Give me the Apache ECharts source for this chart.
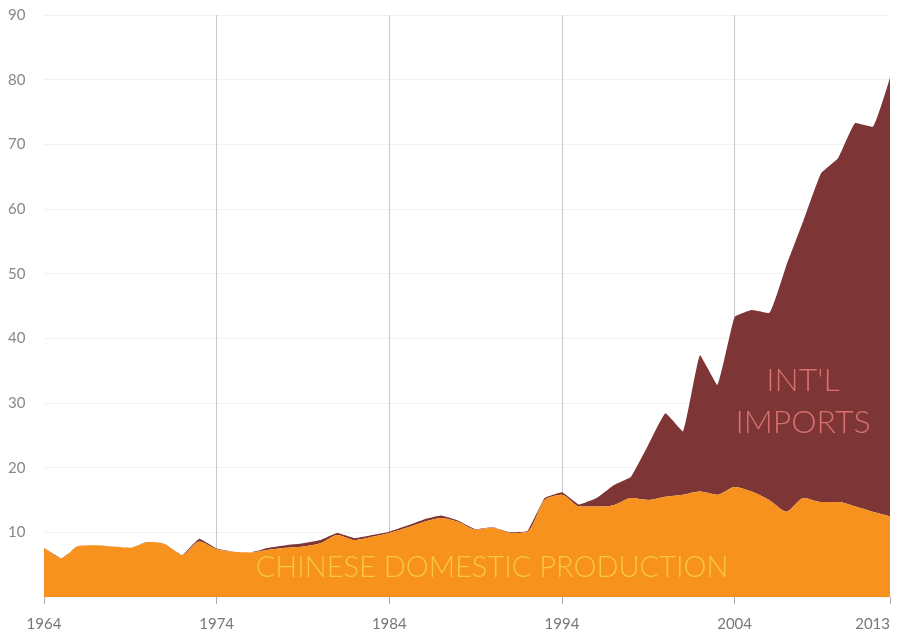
<!DOCTYPE html>
<html>
<head>
<meta charset="utf-8">
<script src="https://cdn.jsdelivr.net/npm/echarts@6/dist/echarts.min.js"></script>
<style>
  html, body { margin: 0; padding: 0; background: #fff; }
  #chart { width: 902px; height: 639px; }
</style>
</head>
<body>
<div id="chart"></div>
<script>
// years 1964..2013
var years = [];
for (var y = 1964; y <= 2013; y++) years.push(String(y));

// million tonnes
var domestic = [
  7.6, 6.0, 7.9, 8.0, 7.8, 7.6, 8.5, 8.2, 6.5, 8.6,
  7.4, 7.0, 6.9, 7.3, 7.6, 7.8, 8.3, 9.6, 8.8, 9.3,
  9.9, 10.7, 11.6, 12.2, 11.6, 10.4, 10.7, 9.9, 10.1, 15.0,
  15.8, 14.0, 14.0, 14.2, 15.3, 15.0, 15.5, 15.8, 16.3, 15.8,
  17.0, 16.3, 15.0, 13.2, 15.3, 14.7, 14.7, 14.0, 13.2, 12.5
];
var imports = [
  0, 0, 0, 0, 0, 0, 0, 0, 0, 0.4,
  0.1, 0, 0, 0.3, 0.4, 0.5, 0.5, 0.3, 0.3, 0.3,
  0.2, 0.3, 0.4, 0.4, 0.2, 0.1, 0.1, 0.1, 0.1, 0.3,
  0.4, 0.3, 1.3, 3.1, 3.3, 8.5, 12.9, 9.8, 21.1, 17.0,
  26.3, 28.1, 28.9, 38.1, 43.0, 50.8, 53.2, 59.3, 59.5, 67.8
];
var labelYears = ['1964', '1974', '1984', '1994', '2004', '2013'];
var gridYears = ['1974', '1984', '1994', '2004'];

var chart = echarts.init(document.getElementById('chart'));
chart.setOption({
  animation: false,
  grid: { left: 44, right: 12, top: 15, bottom: 42, outerBoundsMode: 'none' },
  xAxis: {
    type: 'category',
    data: years,
    boundaryGap: false,
    axisLine: { show: false },
    axisTick: {
      show: true, length: 7, inside: false,
      interval: function (i, v) { return labelYears.indexOf(v) >= 0; },
      lineStyle: { color: '#aaa', width: 1 }
    },
    axisLabel: {
      interval: function (i, v) { return labelYears.indexOf(v) >= 0; },
      color: '#777', fontSize: 15, fontFamily: 'Lato', margin: 20,
      hideOverlap: false,
      alignMaxLabel: 'right'
    },
    splitLine: {
      show: true,
      interval: function (i, v) { return gridYears.indexOf(v) >= 0; },
      lineStyle: { color: '#c8c8c8', width: 1 }
    }
  },
  yAxis: {
    type: 'value',
    min: 0, max: 90, interval: 10,
    axisLine: { show: false },
    axisTick: { show: false },
    axisLabel: {
      color: '#888', fontSize: 15, fontFamily: 'Lato',
      align: 'left', margin: 36,
      formatter: function (v) { return v === 0 ? '' : v; }
    },
    splitLine: { lineStyle: { color: '#f2f2f2', width: 1 } }
  },
  series: [
    {
      name: 'Chinese domestic production',
      type: 'line', stack: 'total', data: domestic,
      smooth: 0.25, symbol: 'none',
      lineStyle: { width: 0 },
      areaStyle: { color: '#F7921E', opacity: 1 },
      z: 3
    },
    {
      name: "Int'l imports",
      type: 'line', stack: 'total', data: imports,
      smooth: 0.1, symbol: 'none',
      lineStyle: { width: 0 },
      areaStyle: { color: '#7D3535', opacity: 1 },
      z: 2
    }
  ],
  graphic: [
    {
      type: 'text', x: 492, y: 568, z: 10,
      style: {
        text: 'CHINESE DOMESTIC PRODUCTION',
        textAlign: 'center', textVerticalAlign: 'middle',
        fill: '#F8C93A', font: '300 29px Lato'
      }
    },
    {
      type: 'text', x: 803, y: 402, z: 10,
      style: {
        text: "INT'L\nIMPORTS",
        textAlign: 'center', textVerticalAlign: 'middle',
        fill: '#D97070', font: '300 32px Lato', lineHeight: 42
      }
    }
  ]
});
</script>
</body>
</html>
